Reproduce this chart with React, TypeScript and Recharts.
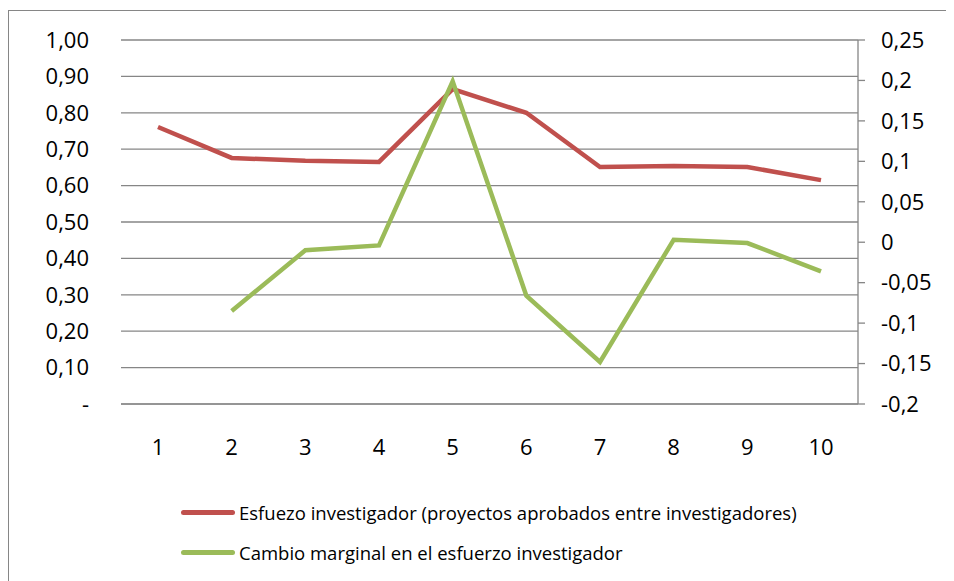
import { LineChart, Line, XAxis, YAxis, CartesianGrid, Legend } from 'recharts';

const periods = ['1', '2', '3', '4', '5', '6', '7', '8', '9', '10'];
const esfuerzo = [0.761, 0.676, 0.668, 0.665, 0.865, 0.8, 0.651, 0.654, 0.651, 0.615];
const cambio = [null, -0.085, -0.01, -0.004, 0.199, -0.066, -0.148, 0.003, -0.001, -0.036];
const leftTicks = [0, 0.1, 0.2, 0.3, 0.4, 0.5, 0.6, 0.7, 0.8, 0.9, 1];
const rightTicks = [-0.2, -0.15, -0.1, -0.05, 0, 0.05, 0.1, 0.15, 0.2, 0.25];
const seriesOrder = ['esfuerzo', 'cambio'];

const RED = '#C0504D';
const GREEN = '#9BBB59';
const GRID = '#868686';
const FONT = '"Open Sans", Lato, sans-serif';

const data = periods.map((p, i) => ({ periodo: p, esfuerzo: esfuerzo[i], cambio: cambio[i] }));

const fmtLeft = (v: number) => (v === 0 ? '-' : v.toFixed(2).replace('.', ','));
const fmtRight = (v: number) => String(parseFloat(v.toFixed(2))).replace('.', ',');

function LegendBox({ payload }: any) {
  const items = [...(payload || [])].sort(
    (a: any, b: any) => seriesOrder.indexOf(a.dataKey) - seriesOrder.indexOf(b.dataKey)
  );
  return (
    <div style={{ fontFamily: FONT, fontSize: 18.5, color: '#000', height: 80 }}>
      {items.map((item: any) => (
        <div key={item.value} style={{ display: 'flex', alignItems: 'center', height: 40 }}>
          <span
            style={{
              display: 'inline-block',
              width: 54,
              height: 5,
              borderRadius: 3,
              background: item.color,
              marginRight: 4,
            }}
          />
          <span>{item.value}</span>
        </div>
      ))}
    </div>
  );
}

export default function App() {
  return (
    <div
      style={{
        marginTop: 2,
        width: 946,
        height: 571,
        borderTop: `1px solid ${GRID}`,
        borderLeft: `1px solid ${GRID}`,
        boxSizing: 'border-box',
        background: '#fff',
      }}
    >
      <LineChart
        width={945}
        height={570}
        data={data}
        margin={{ top: 29, right: 0, bottom: 0, left: 0 }}
        style={{ fontFamily: FONT }}
      >
        <CartesianGrid yAxisId="left" vertical={false} stroke={GRID} strokeWidth={1.3} />
        <XAxis
          dataKey="periodo"
          padding={{ left: 37, right: 37 }}
          axisLine={{ stroke: GRID }}
          tickLine={false}
          tickSize={0}
          tickMargin={35}
          height={97}
          tick={{ fontSize: 22, fill: '#000' }}
        />
        <YAxis
          yAxisId="left"
          domain={[0, 1]}
          ticks={leftTicks}
          tickFormatter={fmtLeft}
          axisLine={false}
          tickLine={false}
          tickSize={0}
          tickMargin={32}
          width={112}
          tick={{ fontSize: 22, fill: '#000' }}
        />
        <YAxis
          yAxisId="right"
          orientation="right"
          domain={[-0.2, 0.25]}
          ticks={rightTicks}
          tickFormatter={fmtRight}
          axisLine={{ stroke: GRID, strokeWidth: 1.3 }}
          tickLine={{ stroke: GRID, strokeWidth: 1.3 }}
          tickSize={7}
          tickMargin={16}
          width={96}
          tick={{ fontSize: 22, fill: '#000' }}
        />
        <Legend
          layout="horizontal"
          verticalAlign="bottom"
          align="left"
          content={<LegendBox />}
          wrapperStyle={{ left: 172, top: 481, width: 760, height: 80 }}
        />
        <Line
          yAxisId="left"
          dataKey="esfuerzo"
          name="Esfuezo investigador (proyectos aprobados entre investigadores)"
          stroke={RED}
          strokeWidth={4.5}
          dot={false}
          type="linear"
          isAnimationActive={false}
        />
        <Line
          yAxisId="right"
          dataKey="cambio"
          name="Cambio marginal en el esfuerzo investigador"
          stroke={GREEN}
          strokeWidth={4.5}
          dot={false}
          type="linear"
          isAnimationActive={false}
        />
      </LineChart>
    </div>
  );
}
